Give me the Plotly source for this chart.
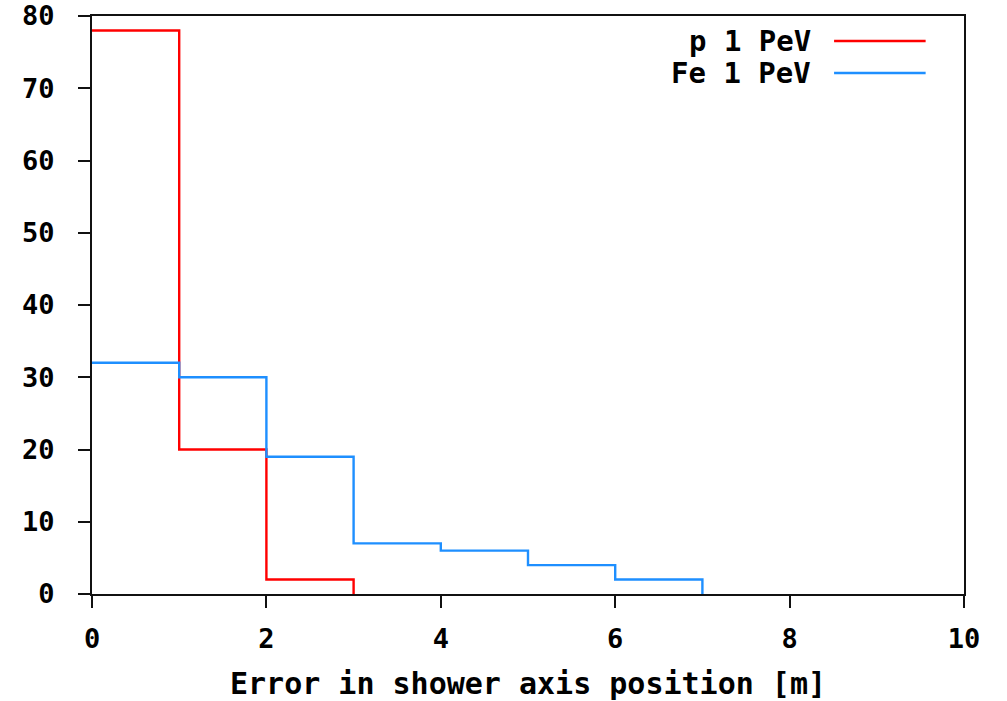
import plotly.graph_objects as go

# Histogram of shower-axis reconstruction error (bin edges in metres, counts per bin)
p_edges = [0, 1, 2, 3]
p_counts = [78, 20, 2]
fe_edges = [0, 1, 2, 3, 4, 5, 6, 7]
fe_counts = [32, 30, 19, 7, 6, 4, 2]

x_ticks = [0, 2, 4, 6, 8, 10]
y_ticks = [0, 10, 20, 30, 40, 50, 60, 70, 80]

series = [
    ("p 1 PeV", p_edges, p_counts, "#ff0000"),
    ("Fe 1 PeV", fe_edges, fe_counts, "#1e8fff"),
]

FONT = "DejaVu Sans Mono"

fig = go.Figure()
for name, edges, counts, color in series:
    fig.add_trace(go.Scatter(
        x=edges,
        y=counts + [0],
        mode="lines",
        line=dict(shape="hv", color=color, width=2.4),
        name=name,
        showlegend=False,
    ))

axis_common = dict(
    showline=True, linecolor="#111111", linewidth=2, mirror=True,
    showgrid=False, zeroline=False, automargin=False,
    ticks="outside", ticklen=12, tickwidth=2, tickcolor="#111111",
    tickfont=dict(family=FONT, size=27, color="black", weight="bold"),
)

fig.update_xaxes(range=[0, 10], tickvals=x_ticks, ticklabelstandoff=8,
                 title=dict(text="Error in shower axis position [m]",
                            font=dict(family=FONT, size=30, color="black", weight="bold"),
                            standoff=22),
                 **axis_common)
fig.update_yaxes(range=[0, 80], tickvals=y_ticks, ticklabelstandoff=18, **axis_common)

# Legend drawn on the right: label text right-aligned, line sample after it
legend_rows = [0.9567, 0.9014]
for (name, _, _, color), yp in zip(series, legend_rows):
    fig.add_annotation(x=0.8268, y=yp, xref="paper", yref="paper",
                       text=name, showarrow=False, xanchor="right", yanchor="middle",
                       font=dict(family=FONT, size=29, color="black", weight="bold"))
    fig.add_shape(type="line", xref="paper", yref="paper",
                  x0=0.851, x1=0.956, y0=yp, y1=yp,
                  line=dict(color=color, width=2.4))

fig.update_layout(
    width=1007, height=701,
    margin=dict(l=92, r=43, t=16, b=107),
    paper_bgcolor="white", plot_bgcolor="white",
)

fig.write_html("out.html")
